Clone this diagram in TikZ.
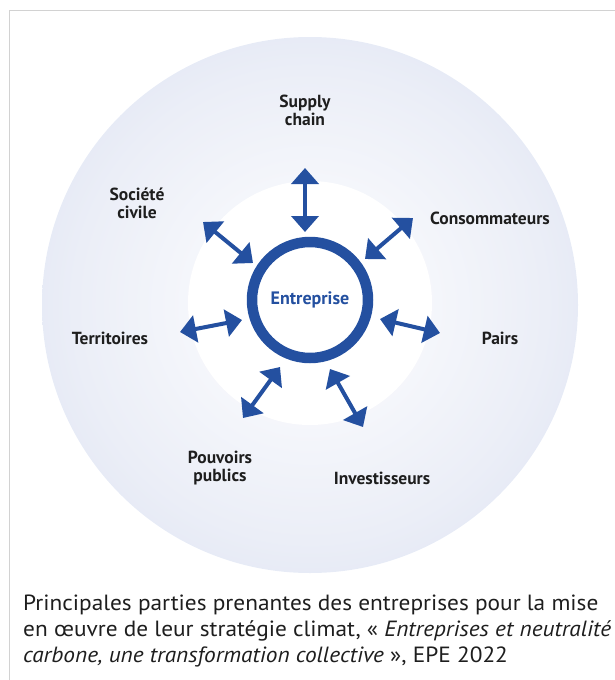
\documentclass[tikz,border=0pt]{standalone}
\usepackage{fontspec}
\setmainfont{PT Sans}
\usetikzlibrary{arrows.meta}
\definecolor{epeblue}{HTML}{2450A0}
\definecolor{ringin}{HTML}{EBEEF7}
\definecolor{ringout}{HTML}{C8D2EA}
\definecolor{framegray}{HTML}{D2D2D2}
\definecolor{labelgray}{HTML}{1E1E1E}
\pgfdeclareradialshading{outerfade}{\pgfpoint{0bp}{0bp}}{%
  color(0bp)=(white); color(22bp)=(ringin); color(50bp)=(ringout)}
\tikzset{
  stake/.style={font=\fontsize{17.5}{18}\selectfont\bfseries, text=labelgray, align=center},
  link/.style={draw=epeblue, line width=4pt,
    {Triangle[length=16pt,width=27pt]}-{Triangle[length=16pt,width=27pt]}}
}
\begin{document}
\begin{tikzpicture}[x=1pt, y=-1pt]
  \useasboundingbox (0,0) rectangle (615,680);
  % frame
  \draw[framegray, line width=1.5pt] (9.5,680) -- (9.5,10.5) -- (615,10.5);
  % circles
  \shade[shading=outerfade] (310,305) circle (268);
  \fill[white] (310,303) circle (122);
  \node[draw=epeblue, line width=10.5pt, circle, minimum size=116pt,
        text=epeblue, font=\fontsize{18}{19}\selectfont\bfseries] (ent) at (310,300) {Entreprise};
  % stakeholders
  \node[stake] (supply) at (305,110) {Supply\\chain};
  \node[stake] (societe) at (137,203) {Société\\civile};
  \node[stake] (conso) at (490,218) {Consommateurs};
  \node[stake] (terr) at (110,338) {Territoires};
  \node[stake] (pairs) at (500,338) {Pairs};
  \node[stake] (pouv) at (220,468) {Pouvoirs\\publics};
  \node[stake] (invest) at (382,478) {Investisseurs};
  % arrow ends
  \coordinate (supply-o) at (305,168);  \coordinate (supply-i) at (305,232);
  \coordinate (societe-o) at (203,222); \coordinate (societe-i) at (253,263);
  \coordinate (conso-o) at (413,218);   \coordinate (conso-i) at (365,259);
  \coordinate (terr-o) at (180,332);    \coordinate (terr-i) at (242,320);
  \coordinate (pairs-o) at (440,333);   \coordinate (pairs-i) at (380,319);
  \coordinate (pouv-o) at (243,418);    \coordinate (pouv-i) at (280,367);
  \coordinate (invest-o) at (363,427);  \coordinate (invest-i) at (330,369);
  \draw[link] (supply-o) -- (supply-i);
  \draw[link] (societe-o) -- (societe-i);
  \draw[link] (conso-o) -- (conso-i);
  \draw[link] (terr-o) -- (terr-i);
  \draw[link] (pairs-o) -- (pairs-i);
  \draw[link] (pouv-o) -- (pouv-i);
  \draw[link] (invest-o) -- (invest-i);
  % caption
  \node[anchor=north west, inner sep=0pt, align=left, text=labelgray,
        font=\fontsize{22}{26}\selectfont\addfontfeatures{FakeStretch=1.06}] (caption) at (23,595)
    {Principales parties prenantes des entreprises pour la mise\\
     en œuvre de leur stratégie climat, « \textit{Entreprises et neutralité}\\
     \textit{carbone, une transformation collective} », EPE 2022};
\end{tikzpicture}
\end{document}
